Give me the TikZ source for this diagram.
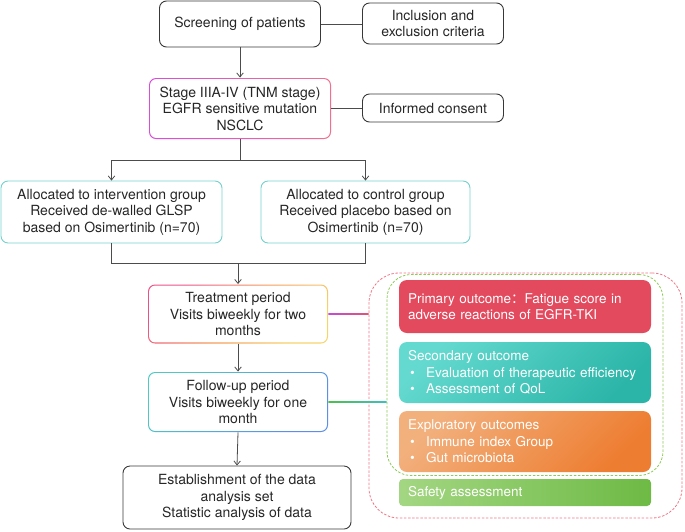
\documentclass[tikz,border=0pt]{standalone}
\usepackage{fontspec}
\setmainfont{TeX Gyre Heros}
\newfontfamily\cjk{Noto Sans CJK SC}
\usetikzlibrary{arrows.meta, calc}
\definecolor{linegray}{rgb}{0.30, 0.30, 0.30}
\definecolor{boxgray}{rgb}{0.22, 0.22, 0.22}
\definecolor{tealline}{rgb}{0.45, 0.82, 0.80}
\definecolor{stagel}{rgb}{0.85, 0.30, 0.86}
\definecolor{stager}{rgb}{0.94, 0.44, 0.56}
\definecolor{treata}{rgb}{0.93, 0.31, 0.53}
\definecolor{treatb}{rgb}{0.96, 0.60, 0.35}
\definecolor{treatc}{rgb}{0.97, 0.83, 0.42}
\definecolor{followa}{rgb}{0.31, 0.79, 0.77}
\definecolor{followb}{rgb}{0.36, 0.56, 0.90}
\definecolor{primred}{rgb}{0.89, 0.29, 0.37}
\definecolor{seclight}{rgb}{0.39, 0.85, 0.81}
\definecolor{secdark}{rgb}{0.17, 0.71, 0.66}
\definecolor{explight}{rgb}{0.95, 0.69, 0.49}
\definecolor{expdark}{rgb}{0.93, 0.49, 0.19}
\definecolor{safelight}{rgb}{0.64, 0.84, 0.51}
\definecolor{safedark}{rgb}{0.43, 0.73, 0.27}
\definecolor{reddash}{rgb}{0.94, 0.46, 0.52}
\definecolor{greendash}{rgb}{0.55, 0.80, 0.33}
\definecolor{magl}{rgb}{0.77, 0.29, 0.84}
\definecolor{magr}{rgb}{0.88, 0.33, 0.46}
\definecolor{grnl}{rgb}{0.30, 0.75, 0.30}
\definecolor{grnr}{rgb}{0.25, 0.75, 0.75}
\tikzstyle{box} = [draw=boxgray,line width=0.9pt,rounded corners=7pt,align=center,text=black!85,font=\fontsize{14}{16.5}\selectfont,inner sep=0pt]
\tikzstyle{gradbox} = [box,draw=none,path picture={\fill[white,rounded corners=6pt] ([xshift=1.1pt,yshift=1.1pt]path picture bounding box.south west) rectangle ([xshift=-1.1pt,yshift=-1.1pt]path picture bounding box.north east);}]
\tikzstyle{dashbox} = [line width=0.8pt,dash pattern=on 2.5pt off 1.6pt,inner sep=0pt]
\tikzstyle{outcome} = [rounded corners=8pt,text=white,align=left,text width=234pt,inner xsep=9pt,inner ysep=0pt,font=\fontsize{13.5}{16.5}\selectfont]
\tikzstyle{link} = [draw=linegray,line width=0.8pt]
\tikzstyle{arrow} = [link,-{Straight Barb[length=4pt,width=6.5pt]}]
\newcommand{\bull}{\hspace*{2pt}\makebox[16pt][l]{\textbullet}}

\begin{document}
\begin{tikzpicture}[x=1pt,y=-1pt]
	\useasboundingbox (0,0) rectangle (685,531);

	\node[box,minimum width=161pt,minimum height=46pt](screen) at (240,24) {Screening of patients};
	\node[box,minimum width=141pt,minimum height=41pt](criteria) at (433,23.5) {Inclusion and\\exclusion criteria};
	\node[gradbox,left color=stagel,right color=stager,minimum width=182pt,minimum height=61pt](stage) at (240,108.5) {Stage IIIA-IV (TNM stage)\\EGFR sensitive mutation\\NSCLC};
	\node[box,minimum width=141pt,minimum height=28pt](consent) at (433,108) {Informed consent};
	\node[box,draw=tealline,minimum width=221pt,minimum height=62pt](interv) at (111.5,212) {Allocated to intervention group\\Received de-walled GLSP\\based on Osimertinib (n=70)};
	\node[box,draw=tealline,minimum width=209pt,minimum height=62pt](control) at (365.5,212) {Allocated to control group\\Received placebo based on\\Osimertinib (n=70)};
	\node[gradbox,top color=treata,bottom color=treatc,middle color=treatb,shading angle=45,minimum width=180pt,minimum height=59pt](treat) at (238,314) {Treatment period\\Visits biweekly for two\\months};
	\node[gradbox,top color=followa,bottom color=followb,shading angle=45,minimum width=180pt,minimum height=60pt](follow) at (238,402) {Follow-up period\\Visits biweekly for one\\month};
	\node[box,minimum width=228pt,minimum height=63pt](est) at (237,497.5) {Establishment of the data\\analysis set\\Statistic analysis of data};

	\node[dashbox,draw=reddash,rounded corners=30pt,minimum width=313pt,minimum height=245pt](outer) at (525.5,395.5) {};
	\node[dashbox,draw=greendash,rounded corners=24pt,minimum width=276pt,minimum height=201pt](inner) at (525,375) {};

	\node[outcome,fill=primred,minimum height=53pt](primary) at (525,306.5) {Primary outcome{\cjk ：}Fatigue score in\\adverse reactions of EGFR-TKI};
	\node[outcome,top color=seclight,bottom color=secdark,shading angle=45,minimum height=61pt](secondary) at (525,372.5) {Secondary outcome\\\bull Evaluation of therapeutic efficiency\\\bull Assessment of QoL};
	\node[outcome,top color=explight,bottom color=expdark,shading angle=45,minimum height=61pt](explore) at (525,441.5) {Exploratory outcomes\\\bull Immune index Group\\\bull Gut microbiota};
	\node[outcome,rounded corners=4pt,left color=safelight,right color=safedark,minimum height=27pt](safety) at (525,492.5) {Safety assessment};

	\draw[link] (screen.east) -- (screen.east -| criteria.west);
	\draw[arrow] (screen.south) -- (stage.north);
	\draw[link] (stage.east) -- (stage.east -| consent.west);

	\coordinate (split) at ($(stage.south)+(0,21)$);
	\draw[link] (stage.south) -- (split);
	\draw[arrow] (split) -| (interv.north);
	\draw[arrow] (split) -| (control.north);

	\coordinate (merge) at ($(treat.north)+(0,-21)$);
	\draw[link] (interv.south) |- (merge) -| (control.south);
	\draw[arrow] (merge) -- (treat.north);
	\draw[arrow] (treat.south) -- (follow.north);
	\draw[arrow] (follow.south) -- (est.north);

	\shade[left color=magl,right color=magr] ([yshift=0.8pt]treat.east) rectangle ([yshift=-0.8pt]treat.east -| outer.west);
	\shade[left color=grnl,right color=grnr] ([yshift=0.8pt]follow.east) rectangle ([yshift=-0.8pt]follow.east -| inner.west);

\end{tikzpicture}
\end{document}
